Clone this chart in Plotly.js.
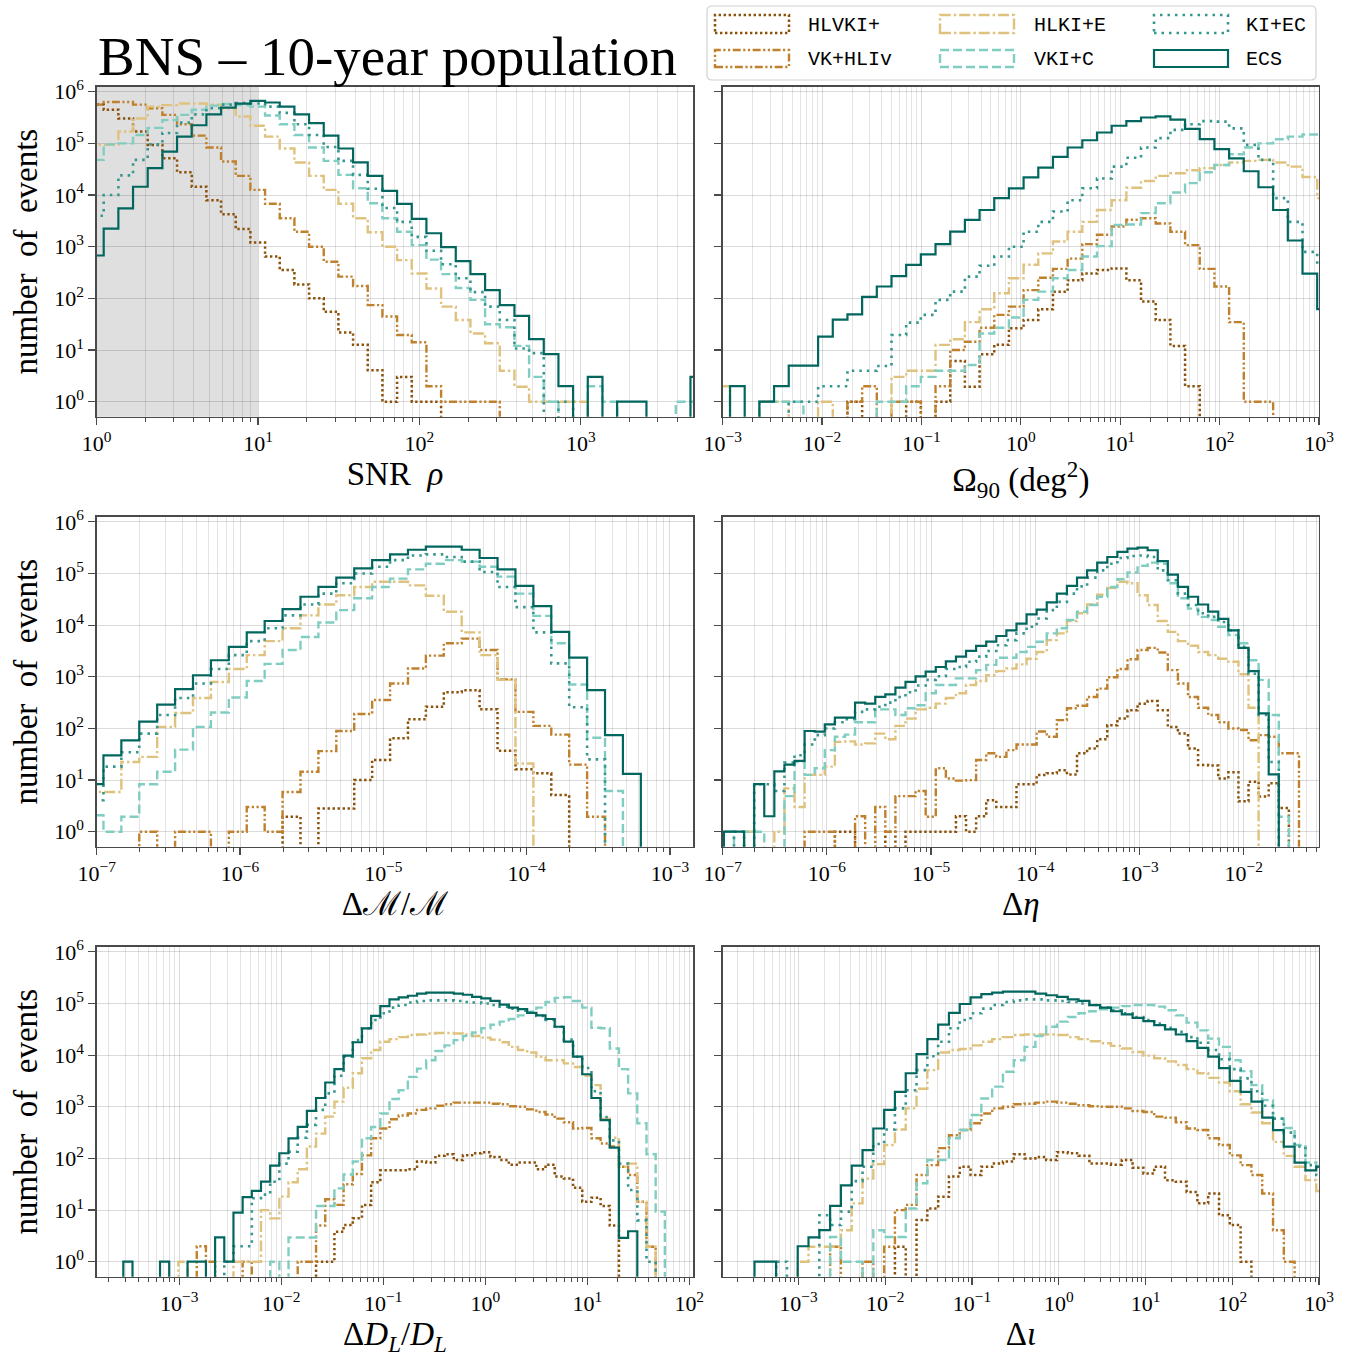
<!DOCTYPE html>
<html><head><meta charset="utf-8">
<script src="https://cdn.plot.ly/plotly-3.0.1.min.js"></script>
<style>html,body{margin:0;padding:0;background:#fff}</style>
</head><body><div id="chart" style="width:1353px;height:1360px"></div>
<script>
const _ = null;
const detectors = ["HLVKI+", "VK+HLIv", "HLKI+E", "VKI+C", "KI+EC", "ECS"];

// Histogram bins: log10 of first bin edge, log10 bin width (equal log-spaced bins)
const snrBinStart = -0.0475, snrBinWidth = 0.0909;
const omBinStart  = -3.074,  omBinWidth  = 0.1477;
const dmBinStart  = -7.078,  dmBinWidth  = 0.125;
const deBinStart  = -6.9885, deBinWidth  = 0.09683;
const dlBinStart  = -3.819,  dlBinWidth  = 0.09;
const diBinStart  = -3.881,  diBinWidth  = 0.12453;

// Values: log10(number of events) in each bin, null = empty bin

// SNR rho
const snr_HLVKI = [5.75,5.65,5.48,5.23,4.97,4.71,4.44,4.16,3.9,3.63, 3.34,3.08,2.81,2.55,2.27,2.0,1.74,1.34,1.1,0.61, 0,0.48,0,0,_,_,_,_,_,_, _,_,_,_,_,_,_,_,_,_, _,_];
const snr_VKHLIv = [5.75,5.8,5.8,5.75,5.68,5.55,5.37,5.15,4.92,4.65, 4.37,4.1,3.83,3.55,3.29,3.0,2.71,2.42,2.24,1.87, 1.65,1.29,1.15,0.3,0,0,0,0,_,_, _,_,_,_,_,_,_,_,_,_, _,_];
const snr_HLKIE = [4.97,4.97,5.23,5.48,5.71,5.74,5.77,5.77,5.75,5.68, 5.52,5.34,5.13,4.9,4.63,4.37,4.1,3.83,3.55,3.28, 3.0,2.74,2.48,2.19,1.84,1.58,1.32,1.13,0.6,0.29, 0,0,0,0,_,_,_,_,_,_, _,_];
const snr_VKIC = [4.68,4.98,5.0,5.16,5.3,5.45,5.55,5.65,5.73,5.76, 5.74,5.71,5.54,5.37,5.16,4.92,4.66,4.39,4.13,3.84, 3.55,3.29,3.03,2.75,2.47,2.2,1.97,1.5,1.44,1.08, 0.48,0,_,_,0.3,0,_,_,_,_, 0,0];
const snr_KIEC = [3.6,4.0,4.38,4.68,4.98,5.2,5.4,5.56,5.68,5.75, 5.78,5.77,5.71,5.59,5.37,5.16,4.93,4.66,4.39,4.12, 3.75,3.48,3.19,2.92,2.66,2.39,2.12,1.84,1.58,1.03, 0.94,_,0,_,_,_,_,_,_,_, _,_];
const snr_ECS = [2.83,3.35,3.74,4.16,4.52,4.84,5.13,5.35,5.56,5.69, 5.77,5.82,5.79,5.71,5.56,5.39,5.15,4.90,4.63,4.37, 4.08,3.83,3.54,3.26,2.99,2.72,2.47,2.16,1.87,1.66, 1.21,0.92,0.30,_,0.48,_,0,0,_,_, _,0.48];

// Omega_90
const om_HLVKI = [_,_,_,_,_,_,_,_,_,0, _,_,_,0,_,0,0.79,0.29,0.92,1.1, 1.42,1.58,1.79,2.13,2.35,2.48,2.55,2.58,2.35,1.94, 1.58,1.08,0.3,_,_,_,_,_,_,_, _,_];
const om_VKHLIv = [_,_,_,_,_,_,_,_,_,0, 0.3,_,0,0,_,0.3,1.0,1.16,1.43,1.68, 1.84,2.16,2.4,2.57,2.77,3.05,3.23,3.39,3.52,3.55, 3.45,3.29,3.03,2.57,2.23,1.54,0,0,_,_, _,_];
const om_HLKIE = [0.3,_,_,0,0,_,_,0,_,_, _,_,0.48,0.6,0.6,1.1,1.21,1.54,1.79,2.1, 2.39,2.65,2.87,3.1,3.29,3.48,3.71,3.9,4.14,4.27, 4.37,4.42,4.48,4.52,4.58,4.63,4.66,4.68,4.63,4.55, 4.35,3.94];
const om_VKIC = [_,_,_,0,0,0,_,_,_,_, _,0,0,0.3,0.48,0.6,0.6,0.71,1.32,1.43, 1.63,1.97,2.13,2.39,2.55,2.81,3.01,3.42,3.43,3.65, 3.84,4.05,4.23,4.44,4.58,4.79,4.92,5.0,5.08,5.13, 5.17,5.17];
const om_KIEC = [_,_,_,_,_,0,0,0.3,0.3,0.6, 0.6,0.69,1.29,1.53,1.68,1.97,2.13,2.42,2.63,2.81, 3.0,3.29,3.48,3.68,3.9,4.13,4.32,4.55,4.72,4.92, 5.1,5.26,5.37,5.43,5.42,5.29,4.97,4.68,3.94,3.48, 2.9,2.61];
const om_ECS = [_,0.3,_,0,0.3,0.7,0.7,1.26,1.59,1.69, 2.03,2.23,2.43,2.65,2.85,3.05,3.29,3.52,3.71,3.94, 4.13,4.34,4.53,4.74,4.92,5.06,5.21,5.34,5.43,5.5, 5.52,5.46,5.28,5.08,4.89,4.71,4.46,4.15,3.71,3.12, 2.48,1.79];

// Delta M / M
const dm_HLVKI = [_,_,_,_,_,_,_,_,_,_, _,0.29,_,0.45,0.45,1.0,1.39,1.81,2.18,2.42, 2.7,2.74,2.37,1.57,1.21,1.13,0.71,_,_,_, _,_,_,_];
const dm_VKHLIv = [_,_,_,0,_,0,0,_,0,0.48, 0,0.77,1.16,1.56,1.95,2.28,2.55,2.87,3.16,3.41, 3.65,3.74,3.52,2.95,2.32,2.05,1.88,1.3,0.29,_, _,_,_,_];
const dm_HLKIE = [0.77,0.77,1.35,1.45,2.03,2.3,2.59,2.9,3.15,3.42, 3.69,3.94,4.19,4.4,4.58,4.74,4.84,4.84,4.77,4.57, 4.26,3.86,3.42,2.94,1.32,_,_,_,_,_, _,_,_,_];
const dm_VKIC = [0.32,0,0.29,0.92,1.16,1.59,2.03,2.31,2.6,2.92, 3.25,3.52,3.77,4.05,4.29,4.52,4.74,4.9,5.08,5.19, 5.26,5.23,5.13,4.94,4.61,4.18,3.65,2.85,1.82,0.79, _,_,_,_];
const dm_KIEC = [0.61,1.26,1.54,1.9,2.26,2.59,2.87,3.15,3.42,3.69, 3.94,4.19,4.4,4.61,4.81,5.0,5.13,5.26,5.35,5.37, 5.32,5.23,5.03,4.74,4.35,3.86,3.26,2.41,1.4,_, _,_,_,_];
const dm_ECS = [0.92,1.48,1.77,2.13,2.46,2.76,3.03,3.32,3.58,3.86, 4.08,4.31,4.55,4.74,4.92,5.1,5.26,5.37,5.46,5.52, 5.52,5.46,5.3,5.08,4.76,4.37,3.87,3.37,2.74,1.87, 1.12,_,_,_];

// Delta eta
const de_HLVKI = [_,_,_,_,_,_,_,_,_,_, _,0,0,_,_,_,0,_,0,0, 0,0,0,0.3,0,0.3,0.61,0.48,0.48,0.92, 0.92,1.1,1.13,1.19,1.11,1.52,1.61,1.79,2.06,2.19, 2.35,2.48,2.53,2.35,2.03,1.9,1.61,1.29,1.28,1.03, 1.15,0.59,0.97,0.68,0.94,0.46,_,_,_];
const de_VKHLIv = [_,_,_,_,_,_,_,_,0,0, 0,_,_,0.3,_,0.48,0,0.69,0.69,0.79, 0.29,1.23,1.03,0.99,1.0,1.39,1.52,1.45,1.58,1.69, 1.69,1.94,1.84,2.16,2.39,2.44,2.61,2.77,2.99,3.15, 3.34,3.52,3.56,3.47,3.13,2.87,2.61,2.4,2.26,2.12, 2.0,1.97,1.77,1.87,1.84,1.52,1.52,_,_];
const de_HLKIE = [_,_,0,_,_,0,0.84,0.48,1.1,1.1, 1.26,1.74,1.75,1.69,1.71,1.9,1.79,2.05,2.19,2.37, 2.4,2.48,2.59,2.68,2.84,2.92,3.03,3.11,3.16,3.24, 3.35,3.48,3.71,3.84,4.08,4.23,4.4,4.59,4.72,4.84, 4.81,4.58,4.39,4.08,3.87,3.69,3.6,3.48,3.42,3.35, 3.29,3.05,2.4,_,_,_,_,_,_];
const de_VKIC = [0,_,0,0,_,_,0.69,1.35,1.1,1.23, 1.58,1.84,1.88,2.12,2.12,2.37,2.37,2.26,2.39,2.45, 2.68,2.84,2.84,2.97,2.97,3.13,3.23,3.37,3.37,3.48, 3.58,3.68,3.84,3.94,4.1,4.26,4.39,4.55,4.74,4.89, 5.02,5.15,5.21,5.19,4.81,4.52,4.32,4.16,4.1,3.97, 3.81,3.65,3.32,2.94,2.26,0.29,_,_,_];
const de_KIEC = [_,0,_,0.92,0.92,0.79,1.34,1.48,1.69,1.87, 2.0,2.12,2.18,2.32,2.37,2.42,2.5,2.61,2.7,2.83, 2.94,3.01,3.15,3.19,3.29,3.39,3.5,3.61,3.71,3.84, 3.97,4.13,4.29,4.45,4.61,4.75,4.92,5.06,5.19,5.3, 5.34,5.35,5.32,5.06,4.87,4.61,4.39,4.23,4.16,4.06, 3.9,3.58,3.06,2.26,1.35,_,_,_,_];
const de_ECS = [0,0,_,0.92,0.3,1.17,1.3,1.37,1.95,1.94, 2.08,2.21,2.21,2.5,2.48,2.61,2.66,2.79,2.9,3.01, 3.1,3.19,3.3,3.39,3.5,3.6,3.68,3.79,3.9,4.03, 4.21,4.3,4.44,4.61,4.76,4.92,5.06,5.21,5.32,5.42, 5.48,5.5,5.45,5.24,4.98,4.74,4.55,4.4,4.26,4.12, 3.9,3.56,3.11,2.29,1.11,_,_,_,_];

// Delta D_L / D_L
const dl_HLVKI = [_,_,_,_,_,_,_,_,_,_, _,_,_,_,_,_,_,_,_,_, _,_,_,_,0,0,0.58,0.71,0.84,1.1, 1.54,1.77,1.77,1.77,1.79,1.94,1.92,2.05,2.08,1.97, 2.06,2.1,2.12,2.03,1.97,1.88,1.92,1.92,1.79,1.88, 1.65,1.61,1.43,1.16,1.24,1.08,0.7,_,_,_, _,_,_,_,_];
const dl_VKHLIv = [_,_,_,_,_,_,_,_,_,_, _,0.3,0,_,_,_,0,_,_,_, _,_,0,0,0.7,1.21,1.1,1.5,1.7,2.06, 2.39,2.58,2.76,2.83,2.87,2.94,2.97,3.02,3.05,3.08, 3.08,3.08,3.08,3.06,3.05,3.01,3.0,2.95,2.9,2.85, 2.77,2.7,2.58,2.59,2.39,2.29,2.23,1.84,1.68,1.16, 0.29,_,_,_,_];
const dl_HLKIE = [_,_,_,_,_,_,_,_,_,0, _,_,_,_,_,0,0,0,1.0,0.84, 1.26,1.54,1.79,2.23,2.48,2.81,3.1,3.37,3.65,3.94, 4.1,4.26,4.31,4.35,4.39,4.4,4.42,4.43,4.43,4.42, 4.4,4.37,4.34,4.3,4.25,4.16,4.1,4.05,3.97,3.9, 3.9,3.84,3.77,3.6,3.42,2.77,2.4,1.84,1.9,1.16, 0.29,_,_,_,_];
const dl_VKIC = [_,_,_,_,_,_,_,_,_,_, _,_,_,_,_,_,_,_,_,0, _,0.47,0.47,0.47,1.08,1.08,1.42,1.69,1.94,2.39, 2.61,2.87,3.15,3.32,3.58,3.74,3.9,4.08,4.19,4.29, 4.37,4.44,4.52,4.59,4.65,4.7,4.77,4.84,4.92,5.03, 5.11,5.12,5.05,4.92,4.53,4.52,4.13,3.73,3.26,2.68, 2.08,0.97,_,_,_];
const dl_KIEC = [_,_,_,_,_,_,_,_,_,_, _,_,_,_,0,0.3,0.3,1.23,1.3,1.55, 1.9,2.13,2.4,2.65,2.94,3.26,3.6,3.97,4.29,4.52, 4.68,4.81,4.92,4.97,5.02,5.05,5.06,5.06,5.06,5.05, 5.03,5.02,5.0,4.97,4.94,4.9,4.86,4.82,4.76,4.68, 4.55,4.3,3.97,3.75,3.3,2.8,2.35,1.9,1.39,0.8, 0,_,_,_,_];
const dl_ECS = [_,_,_,0,_,_,_,0,_,_, 0,0,_,0.47,0,0.95,1.25,1.37,1.55,1.86, 2.1,2.39,2.61,2.92,3.17,3.47,3.73,3.99,4.25,4.52, 4.76,4.95,5.08,5.12,5.15,5.19,5.21,5.21,5.21,5.19, 5.17,5.13,5.1,5.05,4.98,4.92,4.89,4.82,4.77,4.7, 4.55,4.26,3.97,3.63,3.17,2.74,2.21,0.46,0.59,_, _,_,_,_,_];

// Delta iota
const di_HLVKI = [_,_,_,_,_,_,_,_,_,_, _,_,_,_,_,_,0.29,_,0.81,1.03, 1.26,1.65,1.84,1.68,1.84,1.9,1.94,2.08,2.0,2.03, 1.97,2.12,2.1,2.05,1.9,1.9,1.88,1.97,1.82,1.71, 1.84,1.58,1.55,1.35,1.13,1.32,0.9,0.71,0,_, _,_,_,_,_,_];
const di_VKHLIv = [_,_,_,_,_,_,_,_,_,_, 0.29,_,_,0,_,0.29,1.0,1.1,1.68,1.87, 2.2,2.45,2.55,2.68,2.87,2.97,3.0,3.05,3.06,3.08, 3.1,3.08,3.06,3.03,3.01,3.0,3.0,2.97,2.92,2.9, 2.81,2.79,2.7,2.58,2.55,2.39,2.26,2.06,1.87,1.68, 1.32,0.61,0,_,_,_];
const di_HLKIE = [_,_,_,_,_,_,_,0,0.29,0.29, 0.29,0.61,1.13,1.61,1.89,2.26,2.56,2.97,3.35,3.71, 4.05,4.1,4.12,4.19,4.26,4.31,4.35,4.39,4.4,4.4, 4.4,4.39,4.35,4.31,4.27,4.23,4.18,4.13,4.06,3.99, 3.94,3.88,3.81,3.73,3.65,3.56,3.47,3.3,3.05,2.89, 2.68,2.32,2.05,1.84,1.58,1.37];
const di_VKIC = [_,_,_,_,_,_,_,_,_,_, 0.48,0,0,_,0.61,0.48,0.48,1.03,1.52,1.97, 1.97,2.39,2.55,2.84,3.16,3.39,3.68,3.9,4.16,4.37, 4.55,4.65,4.74,4.81,4.85,4.89,4.92,4.95,4.97,4.97, 4.94,4.87,4.77,4.63,4.48,4.32,4.16,3.9,3.69,3.42, 3.13,2.77,2.59,2.26,1.92,1.84];
const di_KIEC = [_,_,_,_,_,0,_,_,_,0.9, 0.71,0.97,1.56,1.84,2.28,2.56,2.97,3.32,3.71,3.98, 4.26,4.52,4.68,4.81,4.9,4.97,5.03,5.06,5.08,5.08, 5.06,5.05,5.03,5.0,4.97,4.92,4.87,4.81,4.74,4.68, 4.61,4.53,4.45,4.35,4.24,4.1,3.92,3.73,3.55,3.3, 3.02,2.77,2.5,2.23,1.87,1.68];
const di_ECS = [_,_,_,0,0,_,_,0.3,0.47,0.61, 1.08,1.48,1.86,2.16,2.58,2.94,3.29,3.65,4.02,4.31, 4.59,4.82,4.99,5.12,5.18,5.21,5.23,5.23,5.23,5.19, 5.16,5.13,5.08,5.05,4.97,4.92,4.85,4.79,4.72,4.66, 4.58,4.5,4.4,4.27,4.14,3.97,3.75,3.5,3.29,3.1, 2.79,2.55,2.23,1.92,1.77,1.84];

// ---------------------------------------------------------------
const SERIF = "'Liberation Serif', 'DejaVu Serif', serif";
const MONO = "'Liberation Mono', 'DejaVu Sans Mono', monospace";
const AX = '#4a4a4a';
const GRID = 'rgba(0,0,0,0.14)';
const GRIDMINOR = 'rgba(0,0,0,0.11)';

const styles = {
  "HLVKI+":  {color:'#8c510a', dash:'2.4px,2.6px', width:2.5},
  "VK+HLIv": {color:'#bf812d', dash:'8px,2.5px,2.2px,2.5px,2.2px,2.5px', width:2.4},
  "HLKI+E":  {color:'#dfc27d', dash:'11px,3px,2.4px,3px', width:2.4},
  "VKI+C":   {color:'#80cdc1', dash:'9px,4px', width:2.4},
  "KI+EC":   {color:'#35978f', dash:'2.5px,5px', width:2.6},
  "ECS":     {color:'#01665e', dash:'solid', width:2.2}
};

const FLOOR = 1e-3; // empty bins drop below the axis
function stepLine(binStart, binWidth, logCounts) {
  const x = [], y = [];
  const n = logCounts.length;
  x.push(Math.pow(10, binStart)); y.push(FLOOR);
  for (let i = 0; i < n; i++) {
    const v = logCounts[i] === null ? FLOOR : Math.pow(10, logCounts[i]);
    x.push(Math.pow(10, binStart + i * binWidth), Math.pow(10, binStart + (i + 1) * binWidth));
    y.push(v, v);
  }
  x.push(Math.pow(10, binStart + n * binWidth)); y.push(FLOOR);
  return {x, y};
}

const colDom = [[96.7/1353, 693.3/1353], [722.7/1353, 1319/1353]];
const rowDom = [[1-416.7/1360, 1-86.5/1360], [1-846.7/1360, 1-516.7/1360], [1-1276.7/1360, 1-946.7/1360]];
const yRange = [-0.29, 6.1];

const panels = [
  {bs:snrBinStart, bw:snrBinWidth, data:[snr_HLVKI,snr_VKHLIv,snr_HLKIE,snr_VKIC,snr_KIEC,snr_ECS], xr:[0,3.697], row:0, col:0, title:'SNR  <i>ρ</i>'},
  {bs:omBinStart, bw:omBinWidth, data:[om_HLVKI,om_VKHLIv,om_HLKIE,om_VKIC,om_KIEC,om_ECS], xr:[-3,3], row:0, col:1, title:'Ω<sub>90</sub> (deg<sup>2</sup>)'},
  {bs:dmBinStart, bw:dmBinWidth, data:[dm_HLVKI,dm_VKHLIv,dm_HLKIE,dm_VKIC,dm_KIEC,dm_ECS], xr:[-7,-2.837], row:1, col:0, title:'Δℳ/ℳ'},
  {bs:deBinStart, bw:deBinWidth, data:[de_HLVKI,de_VKHLIv,de_HLKIE,de_VKIC,de_KIEC,de_ECS], xr:[-7,-1.277], row:1, col:1, title:'Δ<i>η</i>'},
  {bs:dlBinStart, bw:dlBinWidth, data:[dl_HLVKI,dl_VKHLIv,dl_HLKIE,dl_VKIC,dl_KIEC,dl_ECS], xr:[-3.81,2.04], row:2, col:0, title:'Δ<i>D</i><sub><i>L</i></sub>/<i>D</i><sub><i>L</i></sub>'},
  {bs:diBinStart, bw:diBinWidth, data:[di_HLVKI,di_VKHLIv,di_HLKIE,di_VKIC,di_KIEC,di_ECS], xr:[-3.874,3], row:2, col:1, title:'Δ<i>ι</i>'}
];

function pow10Label(p) {
  return '10<sup>' + (p < 0 ? '\u2212' + (-p) : p) + '</sup>';
}
function majorTicks(r) {
  const vals = [], text = [];
  for (let p = Math.ceil(r[0] - 1e-9); p <= Math.floor(r[1] + 1e-9); p++) {
    vals.push(Math.pow(10, p)); text.push(pow10Label(p));
  }
  return {vals, text};
}
function minorTicks(r) {
  const vals = [];
  for (let p = Math.floor(r[0]); p <= Math.ceil(r[1]); p++) {
    for (let m = 2; m <= 9; m++) {
      const v = m * Math.pow(10, p);
      const lv = Math.log10(v);
      if (lv >= r[0] && lv <= r[1]) vals.push(v);
    }
  }
  return vals;
}

const traces = [];
const layout = {
  width: 1353, height: 1360,
  margin: {l:0, r:0, t:0, b:0},
  paper_bgcolor: '#ffffff', plot_bgcolor: '#ffffff',
  showlegend: false,
  font: {family: SERIF, color: '#000'},
  shapes: [], annotations: []
};

panels.forEach((p, i) => {
  const k = i + 1;
  const sx = k === 1 ? '' : String(k);
  p.data.forEach((arr, d) => {
    const st = styles[detectors[d]];
    const s = stepLine(p.bs, p.bw, arr);
    traces.push({
      type: 'scatter', mode: 'lines', name: detectors[d],
      x: s.x, y: s.y, xaxis: 'x' + sx, yaxis: 'y' + sx,
      line: {color: st.color, width: st.width, dash: st.dash, simplify: false},
      hoverinfo: 'skip', showlegend: false
    });
  });
  const mt = majorTicks(p.xr);
  layout['xaxis' + sx] = {
    type: 'log', range: p.xr, domain: colDom[p.col], anchor: 'y' + sx,
    showline: true, linecolor: AX, linewidth: 1.3, mirror: true, zeroline: false,
    ticks: 'outside', ticklen: 7, tickwidth: 1.2, tickcolor: AX,
    tickmode: 'array', tickvals: mt.vals, ticktext: mt.text,
    showgrid: true, gridcolor: GRID, gridwidth: 1,
    minor: {tickmode: 'array', tickvals: minorTicks(p.xr), ticks: 'outside', ticklen: 4, tickwidth: 1, tickcolor: AX,
            showgrid: true, gridcolor: GRIDMINOR, gridwidth: 1},
    tickfont: {family: SERIF, size: 22, color: '#000'},
    title: {text: p.title, font: {family: SERIF, size: 33, color: '#000'}, standoff: 6}
  };
  const yt = majorTicks([0, 6]);
  const ya = {
    type: 'log', range: yRange, domain: rowDom[p.row], anchor: 'x' + sx,
    showline: true, linecolor: AX, linewidth: 1.3, mirror: true, zeroline: false,
    ticks: 'outside', ticklen: 7, tickwidth: 1.2, tickcolor: AX,
    tickmode: 'array', tickvals: yt.vals, ticktext: yt.text,
    showgrid: true, gridcolor: GRID, gridwidth: 1,
    tickfont: {family: SERIF, size: 22, color: '#000'},
    showticklabels: p.col === 0
  };
  if (p.col === 0) {
    ya.title = {text: 'number  of  events', font: {family: SERIF, size: 33, color: '#000'}, standoff: 6};
  }
  layout['yaxis' + sx] = ya;
});

// grey band SNR < 10 (between 10^0 and 10^1) in the first panel
layout.shapes.push({
  type: 'rect', xref: 'x domain', yref: 'y domain',
  x0: (0 - panels[0].xr[0]) / (panels[0].xr[1] - panels[0].xr[0]),
  x1: (1 - panels[0].xr[0]) / (panels[0].xr[1] - panels[0].xr[0]),
  y0: 0, y1: 1, fillcolor: 'rgba(0,0,0,0.125)', line: {width: 0}, layer: 'below'
});

// Title
layout.annotations.push({
  xref: 'paper', yref: 'paper', x: 96/1353, y: 1 - 57/1360, xanchor: 'left', yanchor: 'middle',
  text: 'BNS – 10-year population', showarrow: false,
  font: {family: SERIF, size: 55, color: '#000'}
});

// Legend (three columns, two rows)
const W = 1353, H = 1360;
function px(x) { return x / W; }
function py(y) { return 1 - y / H; }
const lx0 = 707, lx1 = 1316, ly0 = 6, ly1 = 80, r = 5;
layout.shapes.push({
  type: 'path', xref: 'paper', yref: 'paper',
  path: `M ${px(lx0 + r)} ${py(ly0)} L ${px(lx1 - r)} ${py(ly0)} Q ${px(lx1)} ${py(ly0)} ${px(lx1)} ${py(ly0 + r)} ` +
        `L ${px(lx1)} ${py(ly1 - r)} Q ${px(lx1)} ${py(ly1)} ${px(lx1 - r)} ${py(ly1)} ` +
        `L ${px(lx0 + r)} ${py(ly1)} Q ${px(lx0)} ${py(ly1)} ${px(lx0)} ${py(ly1 - r)} ` +
        `L ${px(lx0)} ${py(ly0 + r)} Q ${px(lx0)} ${py(ly0)} ${px(lx0 + r)} ${py(ly0)} Z`,
  line: {color: 'rgba(0,0,0,0.18)', width: 1.2}, fillcolor: 'rgba(255,255,255,0.85)', layer: 'above'
});
const handleX = [[715, 789], [940, 1014], [1154, 1228]];
const textX = [806, 1032, 1244];
const rowY = [[15, 33], [50, 67]];
detectors.forEach((name, d) => {
  const c = Math.floor(d / 2), rr = d % 2;
  const st = styles[name];
  layout.shapes.push({
    type: 'rect', xref: 'paper', yref: 'paper',
    x0: px(handleX[c][0]), x1: px(handleX[c][1]), y0: py(rowY[rr][1]), y1: py(rowY[rr][0]),
    line: {color: st.color, width: st.width, dash: st.dash}, fillcolor: 'rgba(0,0,0,0)', layer: 'above'
  });
  layout.annotations.push({
    xref: 'paper', yref: 'paper', x: px(textX[c]), y: py((rowY[rr][0] + rowY[rr][1]) / 2 + 1),
    xanchor: 'left', yanchor: 'middle', showarrow: false, text: name,
    font: {family: MONO, size: 20, color: '#000'}
  });
});

Plotly.newPlot('chart', traces, layout, {staticPlot: true, displayModeBar: false});
</script>
</body></html>
